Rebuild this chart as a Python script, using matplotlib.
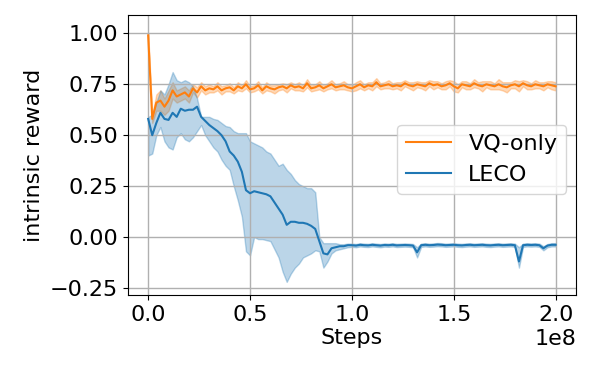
import numpy as np
import matplotlib
matplotlib.use("Agg")
import matplotlib.pyplot as plt

step = 2e6
vq_mean = [0.99, 0.58, 0.66, 0.67, 0.64, 0.67, 0.72, 0.69, 0.70, 0.71,
           0.69, 0.73, 0.71, 0.74, 0.72, 0.73, 0.725, 0.74, 0.72, 0.73,
           0.735, 0.72, 0.74, 0.73, 0.75, 0.725, 0.73, 0.745, 0.72, 0.74,
           0.73, 0.725, 0.735, 0.74, 0.73, 0.745, 0.735, 0.74, 0.73, 0.755,
           0.73, 0.735, 0.745, 0.73, 0.74, 0.75, 0.735, 0.74, 0.745, 0.735,
           0.73, 0.74, 0.75, 0.735, 0.745, 0.74, 0.76, 0.74, 0.745, 0.75,
           0.74, 0.745, 0.74, 0.755, 0.745, 0.74, 0.75, 0.745, 0.74, 0.755,
           0.745, 0.75, 0.74, 0.745, 0.755, 0.74, 0.73, 0.75, 0.745, 0.74,
           0.755, 0.745, 0.74, 0.75, 0.745, 0.74, 0.75, 0.74, 0.735, 0.745,
           0.75, 0.74, 0.755, 0.745, 0.74, 0.75, 0.745, 0.74, 0.75, 0.745, 0.74]
vq_spread = [0.01, 0.02, 0.04, 0.05, 0.04, 0.05, 0.04, 0.03, 0.03, 0.03,
             0.03, 0.02, 0.025, 0.02, 0.02, 0.02, 0.015, 0.02, 0.02, 0.015,
             0.02, 0.015, 0.02, 0.015, 0.02, 0.015, 0.015, 0.02, 0.015, 0.02,
             0.015, 0.02, 0.015, 0.015, 0.02, 0.015, 0.015, 0.02, 0.015, 0.02,
             0.015, 0.015, 0.02, 0.015, 0.015, 0.02, 0.015, 0.015, 0.02, 0.015,
             0.015, 0.02, 0.02, 0.015, 0.015, 0.02, 0.02, 0.015, 0.015, 0.02,
             0.015, 0.015, 0.02, 0.015, 0.015, 0.02, 0.015, 0.015, 0.02, 0.015,
             0.02, 0.015, 0.015, 0.02, 0.015, 0.025, 0.02, 0.015, 0.02, 0.015,
             0.02, 0.015, 0.025, 0.015, 0.02, 0.015, 0.025, 0.02, 0.025, 0.015,
             0.02, 0.025, 0.015, 0.02, 0.015, 0.02, 0.015, 0.02, 0.015, 0.02, 0.02]

leco_mean = [0.58, 0.50, 0.56, 0.61, 0.58, 0.575, 0.61, 0.59, 0.63, 0.62,
             0.625, 0.625, 0.64, 0.59, 0.57, 0.55, 0.535, 0.52, 0.50, 0.47,
             0.42, 0.40, 0.37, 0.32, 0.23, 0.215, 0.225, 0.22, 0.215, 0.21,
             0.20, 0.17, 0.14, 0.11, 0.06, 0.075, 0.075, 0.07, 0.07, 0.065,
             0.055, 0.04, -0.02, -0.08, -0.085, -0.055, -0.05, -0.045, -0.045, -0.04,
             -0.04, -0.042, -0.038, -0.04, -0.041, -0.038, -0.04, -0.042, -0.039, -0.04,
             -0.038, -0.041, -0.04, -0.039, -0.04, -0.042, -0.075, -0.04, -0.038, -0.04,
             -0.039, -0.037, -0.038, -0.04, -0.039, -0.038, -0.04, -0.041, -0.039, -0.038,
             -0.04, -0.039, -0.038, -0.04, -0.041, -0.039, -0.038, -0.04, -0.039, -0.038,
             -0.04, -0.12, -0.04, -0.038, -0.039, -0.038, -0.04, -0.055, -0.042, -0.038, -0.038]
leco_hi = [0.59, 0.60, 0.66, 0.72, 0.70, 0.75, 0.81, 0.77, 0.76, 0.77,
           0.76, 0.74, 0.68, 0.59, 0.59, 0.59, 0.58, 0.575, 0.56, 0.545,
           0.54, 0.52, 0.51, 0.51, 0.51, 0.47, 0.46, 0.45, 0.44, 0.42,
           0.41, 0.38, 0.35, 0.36, 0.33, 0.31, 0.28, 0.26, 0.25, 0.24,
           0.24, 0.22, 0.00, -0.03, -0.03, -0.03, -0.03, -0.035, -0.035, -0.032,
           -0.032, -0.034, -0.03, -0.032, -0.033, -0.03, -0.032, -0.034, -0.031, -0.032,
           -0.03, -0.033, -0.032, -0.031, -0.032, -0.034, -0.05, -0.032, -0.03, -0.032,
           -0.031, -0.029, -0.03, -0.032, -0.031, -0.03, -0.032, -0.033, -0.031, -0.03,
           -0.032, -0.031, -0.03, -0.032, -0.033, -0.031, -0.03, -0.032, -0.031, -0.03,
           -0.032, -0.05, -0.032, -0.03, -0.031, -0.03, -0.032, -0.045, -0.034, -0.03, -0.03]
leco_lo = [0.40, 0.41, 0.50, 0.54, 0.47, 0.44, 0.43, 0.49, 0.51, 0.48,
           0.47, 0.49, 0.52, 0.55, 0.50, 0.47, 0.44, 0.42, 0.38, 0.35,
           0.33, 0.25, 0.18, 0.10, -0.07, -0.09, 0.00, -0.01, -0.01, -0.015,
           -0.02, -0.06, -0.10, -0.17, -0.22, -0.18, -0.15, -0.13, -0.10, -0.09,
           -0.08, -0.065, -0.07, -0.15, -0.12, -0.08, -0.065, -0.06, -0.055, -0.05,
           -0.048, -0.05, -0.046, -0.048, -0.049, -0.046, -0.048, -0.05, -0.047, -0.048,
           -0.046, -0.049, -0.048, -0.047, -0.048, -0.05, -0.10, -0.048, -0.046, -0.048,
           -0.047, -0.045, -0.046, -0.048, -0.047, -0.046, -0.048, -0.049, -0.047, -0.046,
           -0.048, -0.047, -0.046, -0.048, -0.049, -0.047, -0.046, -0.048, -0.047, -0.046,
           -0.048, -0.15, -0.048, -0.046, -0.047, -0.046, -0.048, -0.065, -0.05, -0.046, -0.046]

steps = np.arange(len(vq_mean)) * step

plt.rcParams['font.family'] = ['DejaVu Sans']
plt.rcParams['font.size'] = 16

fig = plt.figure(figsize=(6, 3.75), dpi=100)
ax = fig.add_axes([0.213, 0.213, 0.747, 0.747])

vm = np.array(vq_mean)
vs = np.array(vq_spread)
ax.fill_between(steps, vm - vs, vm + vs, color='tab:orange', alpha=0.3, linewidth=1)
l1, = ax.plot(steps, vm, color='tab:orange', linewidth=1.5, label='VQ-only')

ax.fill_between(steps, leco_lo, leco_hi, color='tab:blue', alpha=0.3, linewidth=1)
l2, = ax.plot(steps, leco_mean, color='tab:blue', linewidth=1.5, label='LECO')

ax.set_xlim(-1e7, 2.1e8)
ax.set_ylim(-0.285, 1.09)
ax.set_xticks([0, 0.5e8, 1.0e8, 1.5e8, 2.0e8])
ax.set_yticks([-0.25, 0.0, 0.25, 0.5, 0.75, 1.0])
ax.grid(True, color='#b0b0b0', linewidth=1)
ax.set_xlabel('Steps', labelpad=2)
ax.set_ylabel('intrinsic reward')
ax.legend(handles=[l1, l2], loc='upper right', bbox_to_anchor=(1.003, 0.647), fontsize=16)

fig.savefig('out.png', dpi=100)
